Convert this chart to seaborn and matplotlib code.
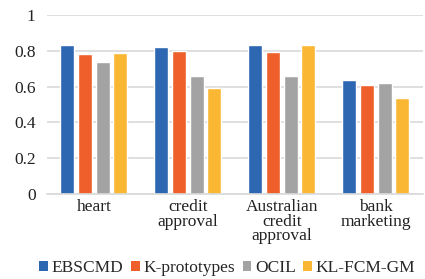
import pandas as pd
import numpy as np
import matplotlib.pyplot as plt
import seaborn as sns
from matplotlib.patches import Patch

# data
datasets = ['heart', 'credit\napproval', 'Australian\ncredit\napproval', 'bank\nmarketing']
methods = ['EBSCMD', 'K-prototypes', 'OCIL', 'KL-FCM-GM']
ebscmd = [0.83, 0.82, 0.83, 0.635]
kproto = [0.78, 0.80, 0.795, 0.61]
ocil = [0.74, 0.66, 0.66, 0.62]
klfcm = [0.79, 0.59, 0.83, 0.535]
colors = ['#2E67B1', '#EF5F2B', '#A3A3A3', '#F9B733']

rows = []
for m, vals in zip(methods, [ebscmd, kproto, ocil, klfcm]):
    for d, v in zip(datasets, vals):
        rows.append({'dataset': d, 'method': m, 'value': v})
df = pd.DataFrame(rows)

sns.set_style('white')
plt.rcParams['font.family'] = ['Liberation Serif', 'DejaVu Serif']

fig = plt.figure(figsize=(4.25, 2.79), dpi=100)
ax = fig.add_axes([0.11, 0.305, 0.885, 0.641])

sns.barplot(data=df, x='dataset', y='value', hue='method', palette=colors,
            width=0.75, gap=0.2, ax=ax, legend=False, saturation=1)

ax.set_ylim(0, 1)
ax.set_xlim(-0.5, 3.5)
ax.set_yticks(np.arange(0, 1.01, 0.2))
ax.set_yticklabels(['0', '0.2', '0.4', '0.6', '0.8', '1'])
ax.yaxis.grid(True, color='#D9D9D9', linewidth=1.2)
ax.set_axisbelow(True)
for s in ['top', 'right', 'left']:
    ax.spines[s].set_visible(False)
ax.spines['bottom'].set_color('#D9D9D9')
ax.spines['bottom'].set_linewidth(1.2)
ax.tick_params(axis='both', length=0, labelsize=12.5, colors='#222222')
ax.tick_params(axis='x', pad=4)
ax.tick_params(axis='y', pad=8)
ax.set_xlabel('')
ax.set_ylabel('')
for lab in ax.get_xticklabels():
    lab.set_linespacing(0.85)

handles = [Patch(facecolor=c, edgecolor='none') for c in colors]
fig.legend(handles, methods, loc='center', bbox_to_anchor=(0.535, 0.04),
           ncol=4, frameon=False, fontsize=12.5, handlelength=0.5, handleheight=0.5,
           handletextpad=0.2, columnspacing=0.45)

fig.savefig('out.png', dpi=100)
